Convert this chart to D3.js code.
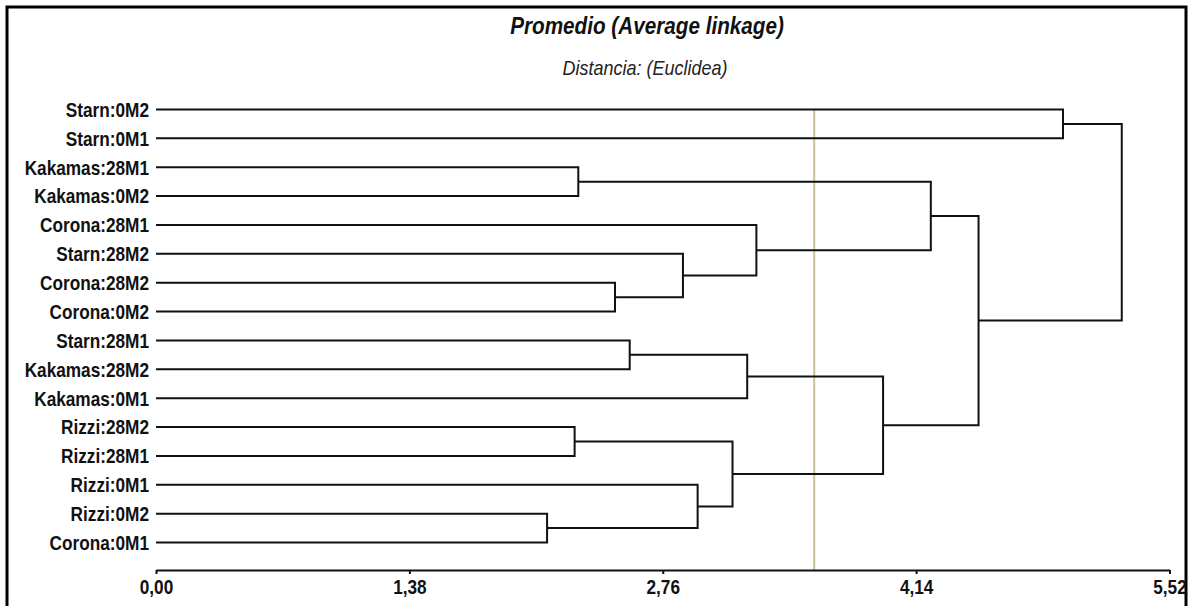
<!DOCTYPE html>
<html>
<head>
<meta charset="utf-8">
<script src="https://cdn.jsdelivr.net/npm/d3@7"></script>
<style>
  body { margin: 0; background: #fff; }
  text { font-family: "Liberation Sans", Arial, sans-serif; }
</style>
</head>
<body>
<div id="chart"></div>
<script>
// Leaves in the order they appear from top to bottom
const leaves = [
    "Starn:0M2", "Starn:0M1", "Kakamas:28M1", "Kakamas:0M2",
    "Corona:28M1", "Starn:28M2", "Corona:28M2", "Corona:0M2",
    "Starn:28M1", "Kakamas:28M2", "Kakamas:0M1", "Rizzi:28M2",
    "Rizzi:28M1", "Rizzi:0M1", "Rizzi:0M2", "Corona:0M1"
];

// Merges: [child a, child b, distance]; ids 0-15 are leaves, 16+ are merges in this order
const merges = [
    [14, 15, 2.13],  // 16
    [11, 12, 2.28],  // 17
    [2, 3, 2.30],    // 18
    [6, 7, 2.50],    // 19
    [8, 9, 2.58],    // 20
    [5, 19, 2.87],   // 21
    [13, 16, 2.95],  // 22
    [17, 22, 3.14],  // 23
    [20, 10, 3.22],  // 24
    [4, 21, 3.27],   // 25
    [24, 23, 3.96],  // 26
    [18, 25, 4.22],  // 27
    [27, 26, 4.48],  // 28
    [0, 1, 4.94],    // 29
    [29, 28, 5.26]   // 30
];

const tickValues = [0, 1.38, 2.76, 4.14, 5.52];
const cutDistance = 3.585;

const titleText = "Promedio (Average linkage)";
const subtitleText = "Distancia: (Euclidea)";

const width = 1201, height = 606;

const svg = d3.select("#chart")
    .append("svg")
    .attr("width", width)
    .attr("height", height);

// frame round the picture
svg.append("rect")
    .attr("x", 7).attr("y", 7)
    .attr("width", 1179).attr("height", 640)
    .attr("fill", "none")
    .attr("stroke", "#000")
    .attr("stroke-width", 3);

// Scales
const x = d3.scaleLinear()
    .domain([0, 5.52])
    .range([156, 1169.5]);

const y = d3.scalePoint()
    .domain(leaves)
    .range([109.5, 542.5]);

const axisY = 570;

// Titles (slightly condensed like the original)
svg.append("g")
    .attr("transform", "translate(647,34) scale(0.9,1)")
    .append("text")
    .attr("text-anchor", "middle")
    .style("font-size", "23px")
    .style("font-weight", "bold")
    .style("font-style", "italic")
    .style("fill", "#111")
    .text(titleText);

svg.append("g")
    .attr("transform", "translate(645,75) scale(0.9,1)")
    .append("text")
    .attr("text-anchor", "middle")
    .style("font-size", "20px")
    .style("font-style", "italic")
    .style("fill", "#222")
    .text(subtitleText);

// node positions: leaves then merges
const nodes = leaves.map(d => ({ x: x(0), y: y(d) }));
merges.forEach(m => {
    const a = nodes[m[0]], b = nodes[m[1]];
    nodes.push({ x: x(m[2]), y: (a.y + b.y) / 2 });
});

// cut line
svg.append("line")
    .attr("x1", x(cutDistance)).attr("x2", x(cutDistance))
    .attr("y1", y(leaves[0])).attr("y2", axisY)
    .attr("stroke", "#c9bf98")
    .attr("stroke-width", 2);

// Dendrogram brackets
const links = svg.append("g")
    .attr("fill", "none")
    .attr("stroke", "#111")
    .attr("stroke-width", 2);

links.selectAll("path")
    .data(merges)
    .enter()
    .append("path")
    .attr("d", m => {
        const a = nodes[m[0]], b = nodes[m[1]], xm = x(m[2]);
        return `M${a.x},${a.y}H${xm}V${b.y}H${b.x}`;
    });

// Leaf labels (narrow bold look)
svg.append("g")
    .selectAll("g")
    .data(leaves)
    .enter()
    .append("g")
    .attr("transform", d => `translate(149,${y(d)}) scale(0.82,1)`)
    .append("text")
    .attr("text-anchor", "end")
    .attr("dy", "0.35em")
    .style("font-size", "21px")
    .style("font-weight", "bold")
    .style("fill", "#111")
    .text(d => d);

// X axis
const xAxis = svg.append("g")
    .attr("transform", `translate(0,${axisY})`)
    .call(d3.axisBottom(x)
        .tickValues(tickValues)
        .tickSize(4)
        .tickSizeOuter(0)
        .tickPadding(5)
        .tickFormat(d => d3.format(".2f")(d).replace(".", ",")));

xAxis.select(".domain").attr("stroke-width", 2).attr("stroke", "#111");
xAxis.selectAll(".tick line").attr("stroke-width", 2).attr("stroke", "#111");
xAxis.selectAll(".tick text")
    .attr("transform", "scale(0.82,1)")
    .style("font-family", "'Liberation Sans', Arial, sans-serif")
    .style("font-size", "21px")
    .style("font-weight", "bold")
    .style("fill", "#111");
</script>
</body>
</html>
